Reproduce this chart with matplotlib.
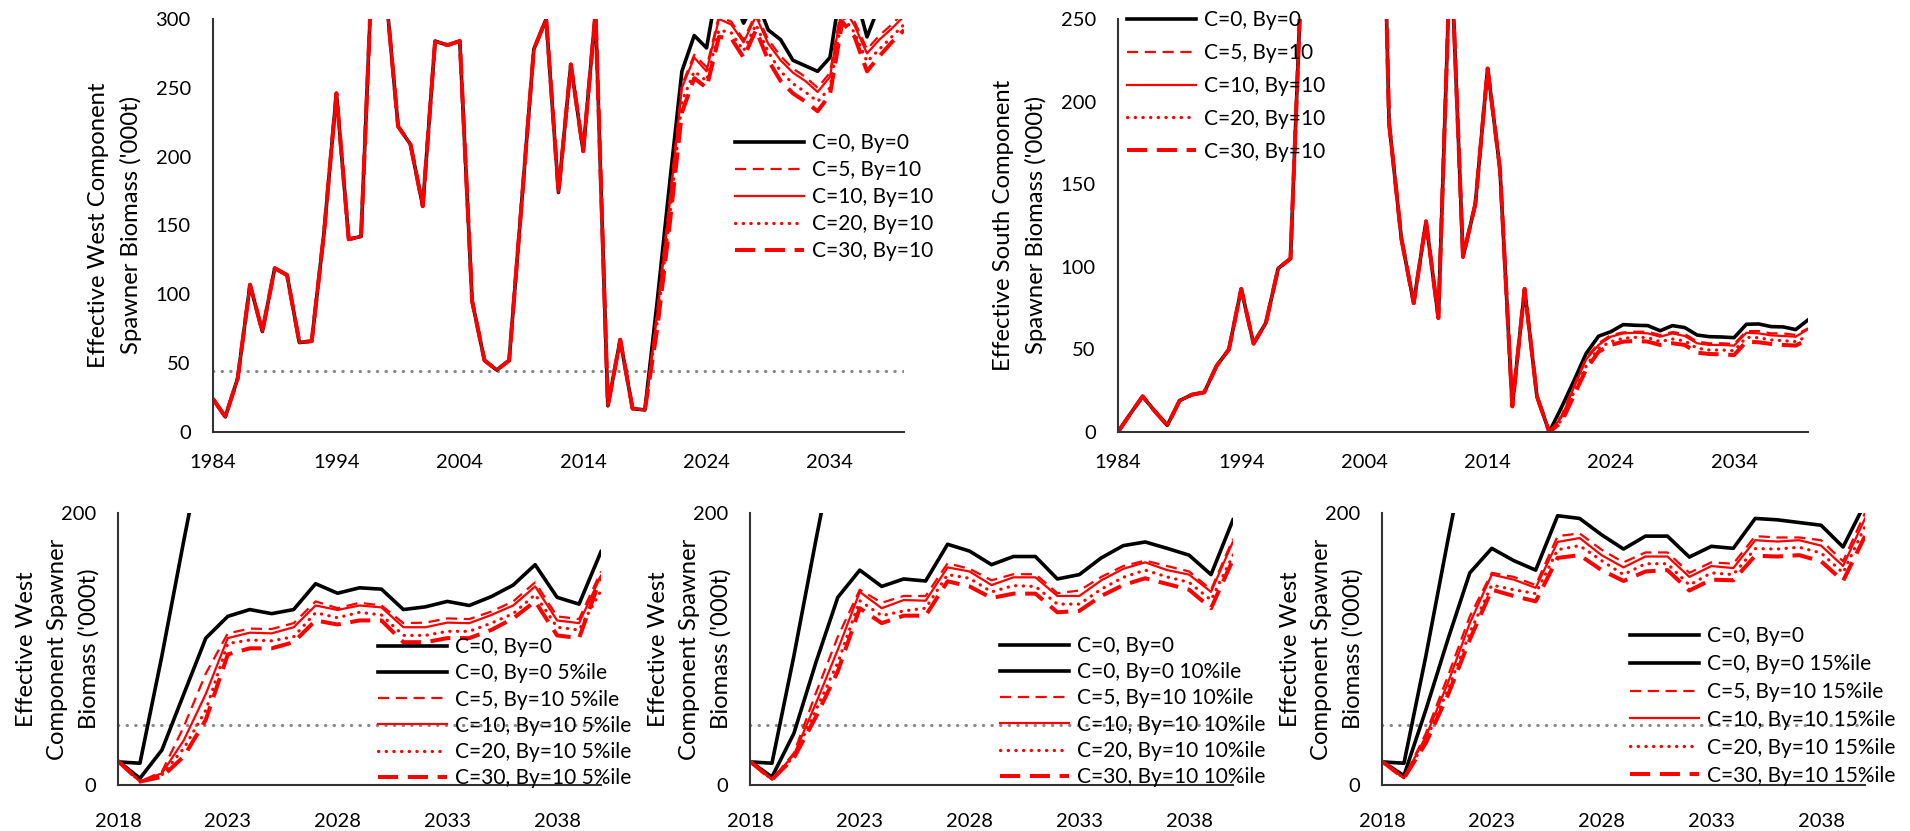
import numpy as np
import matplotlib.pyplot as plt

plt.rcParams['font.family'] = ['Lato', 'DejaVu Sans']

# ---------------- data ----------------
years_all = list(range(1984, 2041))
years_proj = list(range(2018, 2041))

# West component, historic part (1984-2019), identical for all scenarios
west_hist = [24, 11, 39, 107, 73, 119, 114, 65, 66, 145, 246, 140, 142, 360, 320,
             222, 209, 164, 284, 281, 284, 95, 52, 45, 52, 165, 278, 300, 174, 267,
             204, 305, 19, 67, 17, 16]
# West projections 2020-2040
west_c0_proj = [95, 180, 262, 288, 279, 330, 320, 297, 315, 292, 285, 270, 266, 262,
                272, 330, 320, 287, 310, 320, 330]
west_c5_proj = [88, 168, 252, 274, 265, 302, 298, 285, 304, 285, 273, 264, 258, 250,
                261, 312, 298, 278, 288, 296, 305]
west_c10_proj = [85, 165, 250, 272, 262, 300, 296, 283, 302, 282, 270, 261, 255, 247,
                 258, 310, 295, 275, 285, 293, 302]
west_c20_proj = [80, 155, 240, 262, 255, 292, 290, 277, 296, 276, 262, 253, 247, 240,
                 250, 302, 290, 269, 278, 287, 296]
west_c30_proj = [75, 150, 232, 257, 250, 287, 286, 272, 292, 270, 255, 246, 240, 233,
                 245, 298, 287, 262, 273, 283, 292]

# South component, historic part (1984-2019)
south_hist = [0, 11, 21.6, 12.5, 4, 19, 22.6, 24, 40, 50, 86.6, 53.5, 66, 99, 105,
              300, 420, 380, 450, 520, 480, 500, 187, 117, 78, 127.5, 69, 297, 106,
              138, 220, 159, 15.5, 86.6, 21.6, 0]
south_c0_proj = [15, 31, 47.6, 58, 60.7, 65, 64.6, 64.4, 61.3, 64.4, 63.2, 58.7, 57.7,
                 57.5, 57.1, 65.2, 65.4, 63.8, 63.6, 62, 67.8]
south_c5_proj = [10, 28, 45, 53.7, 58.7, 60.3, 60.7, 60.7, 58.7, 60.5, 59.3, 54.7, 53.7,
                 53.7, 53.3, 61.1, 61.1, 59.7, 59.7, 58.7, 62.8]
south_c10_proj = [9, 27, 44, 52.7, 57.7, 59.7, 60.1, 59.7, 57.7, 59.7, 58.1, 53.7, 52.7,
                  52.7, 52.3, 60.1, 59.7, 58.5, 58.1, 57.7, 62.2]
south_c20_proj = [7, 24, 40, 50.7, 54.7, 56.7, 57.3, 57.1, 54.7, 56.3, 55.1, 50.7, 49.6,
                  49.6, 49.2, 57.3, 57.1, 55.7, 55.3, 54.7, 58.1]
south_c30_proj = [6, 22, 38, 48.6, 52.7, 54.7, 55.1, 54.7, 52.7, 53.7, 52.7, 48, 47.2,
                  47, 46.6, 54.7, 54.3, 53.3, 52.7, 52.3, 56.1]

# West percentiles 2018-2040
p5_c0 = [17.6, 4.9, 25.7, 67, 108, 124, 129, 126, 129, 148, 141, 145, 144, 129, 131,
         135, 132, 138.5, 147, 162, 138, 133, 171.6]
p5_c5 = [17.6, 2.5, 9.8, 43, 82, 111.5, 115, 114.7, 119, 135, 130, 134, 132, 119, 119.4,
         122.5, 122, 127.5, 135, 149, 124, 122, 157]
p5_c10 = [17.6, 2.5, 8.6, 33, 67, 108, 112, 111.5, 116, 132, 128.7, 132, 130.6, 116, 116,
          119.4, 119, 125, 132, 146, 121, 119, 154]
p5_c20 = [17.6, 2.5, 7.4, 27, 55, 104, 106.6, 106, 109, 126.7, 123, 127, 125, 110, 110,
          113, 113, 119, 126, 140, 116, 114, 143]
p5_c30 = [17.6, 2.5, 6, 21, 48, 96, 100.5, 100.5, 105, 121, 118, 121, 121, 105, 105,
          108, 108, 114, 122.5, 135, 110, 108, 153]

p10_c0 = [17.4, 5.9, 38, 90, 138, 158, 146, 151.5, 150, 177, 172, 162, 168, 168, 151.5,
          154.7, 167, 176, 178.7, 174, 169, 154.7, 195]
p10_c5 = [17.4, 4, 23.5, 67.6, 109, 143.6, 134, 139, 139, 163, 159, 150.5, 155, 155, 141,
          143, 153, 161, 165, 161, 157, 143.6, 181]
p10_c10 = [17.4, 4, 22.3, 60, 99.5, 142, 130, 136, 135.5, 160, 157, 147, 152.7, 152.7,
           139, 139, 150.5, 159, 163.7, 158, 154.7, 142, 179]
p10_c20 = [17.4, 4, 21, 55, 90, 135.5, 124.5, 128, 130, 154.7, 152, 142, 146.6, 146, 133,
           133, 144, 152.7, 158, 153, 149, 136, 169]
p10_c30 = [17.4, 4, 20, 50, 83.6, 130, 119, 124.5, 124.5, 149.8, 146, 137.5, 140.7, 140.7,
           127, 128, 139, 147, 152, 147.8, 143.6, 130, 165.7]

p15_c0 = [17.4, 6.9, 55.4, 107, 156, 174, 165, 158, 198, 196, 184, 173.5, 183, 183, 167.6,
          175.5, 174, 196, 195, 193, 191, 175, 207]
p15_c5 = [17.4, 5, 38, 80, 124, 156, 153, 147, 183, 185, 173, 163.7, 171, 171, 156, 163.7,
          162.7, 183, 182, 182, 180, 164.5, 200]
p15_c10 = [17.4, 5, 35.8, 75, 119, 154.7, 151, 145, 178.7, 181.6, 169, 160, 168, 168, 153,
           161, 159.5, 180, 179, 180, 176, 161, 196]
p15_c20 = [17.4, 5, 33, 70, 112, 147, 143.6, 140.7, 173, 176, 165, 154.7, 162.7, 162.7,
           147, 156, 154.7, 173.8, 173.5, 174.8, 170.6, 156, 190]
p15_c30 = [17.4, 5, 31, 66, 107, 143.6, 139, 135, 167, 169, 158, 150, 157, 158, 143, 151,
           150.5, 168.6, 168, 169, 164.5, 150, 183]

threshold = 44

scen_labels = ['C=0, By=0', 'C=5, By=10', 'C=10, By=10', 'C=20, By=10', 'C=30, By=10']

# ---------------- styles ----------------
st_c0 = dict(color='black', lw=2.6)
st_c5 = dict(color='red', lw=1.6, dashes=(5, 3))
st_c10 = dict(color='red', lw=1.6)
st_c20 = dict(color='red', lw=2.3, dashes=(0.1, 2.3), dash_capstyle='round')
st_c30 = dict(color='red', lw=2.9, dashes=(5, 2.4))
red_styles = [st_c5, st_c10, st_c20, st_c30]

W, H = 1910, 831
fig = plt.figure(figsize=(W / 100, H / 100), dpi=100)


def make_ax(l, r, t, b):
    return fig.add_axes([l / W, 1 - b / H, (r - l) / W, (b - t) / H])


def style_ax(ax, xlim, ylim, xt, yt, xpad):
    ax.set_xlim(*xlim)
    ax.set_ylim(*ylim)
    ax.set_xticks(xt)
    ax.set_yticks(yt)
    for s in ['top', 'right']:
        ax.spines[s].set_visible(False)
    for s in ['left', 'bottom']:
        ax.spines[s].set_color('#333333')
        ax.spines[s].set_linewidth(1.5)
    ax.tick_params(axis='x', length=0, pad=xpad, labelsize=14.5)
    ax.tick_params(axis='y', length=0, pad=16, labelsize=14.5)


def gray_line(ax):
    ax.axhline(threshold, color='#8a8a8a', lw=2.3, dashes=(0.1, 2.6),
               dash_capstyle='round', zorder=1)


def legend(ax, x, y, spacing, fs=15):
    return ax.legend(loc='upper left', bbox_to_anchor=(x / W, 1 - y / H),
                     bbox_transform=fig.transFigure, frameon=False, fontsize=fs,
                     handlelength=3.3, handletextpad=0.4, labelspacing=spacing,
                     borderpad=0, borderaxespad=0)


def ylabel(x, y, txt):
    fig.text(x / W, 1 - y / H, txt, rotation=90, ha='center', va='center',
             fontsize=17.2, linespacing=1.58)


# ---------------- top-left: West ----------------
ax1 = make_ax(213, 904, 19, 432)
gray_line(ax1)
ax1.plot(years_all, west_hist + west_c0_proj, label=scen_labels[0],
         solid_joinstyle='round', **st_c0)
for lab, proj, st in zip(scen_labels[1:],
                         [west_c5_proj, west_c10_proj, west_c20_proj, west_c30_proj],
                         red_styles):
    ax1.plot(years_all, west_hist + proj, label=lab, solid_joinstyle='round', **st)
style_ax(ax1, (1984, 2040), (0, 300), range(1984, 2041, 10), range(0, 301, 50), 15.5)
legend(ax1, 735, 133, 0.34)
ylabel(115, 225, "Effective West Component\nSpawner Biomass ('000t)")

# ---------------- top-right: South ----------------
ax2 = make_ax(1118, 1808, 19, 432)
ax2.plot(years_all, south_hist + south_c0_proj, label=scen_labels[0],
         solid_joinstyle='round', **st_c0)
for lab, proj, st in zip(scen_labels[1:],
                         [south_c5_proj, south_c10_proj, south_c20_proj, south_c30_proj],
                         red_styles):
    ax2.plot(years_all, south_hist + proj, label=lab, solid_joinstyle='round', **st)
style_ax(ax2, (1984, 2040), (0, 250), range(1984, 2041, 10), range(0, 251, 50), 15.5)
legend(ax2, 1127, 10, 0.62)
ylabel(1020, 225, "Effective South Component\nSpawner Biomass ('000t)")

# ---------------- bottom row: West percentiles ----------------
median_proj = (west_hist + west_c0_proj)[34:]
bottom = [
    (118, 601, 58, 378, '5%ile', [p5_c0, p5_c5, p5_c10, p5_c20, p5_c30], 637, 0.30),
    (750, 1233, 690, 1000, '10%ile', [p10_c0, p10_c5, p10_c10, p10_c20, p10_c30], 636, 0.30),
    (1382, 1865, 1322, 1630, '15%ile', [p15_c0, p15_c5, p15_c10, p15_c20, p15_c30], 626, 0.38),
]
for l, r, ylx, legx, pct, series, legy, lsp in bottom:
    ax = make_ax(l, r, 513, 785)
    gray_line(ax)
    ax.plot(years_proj, median_proj, label='C=0, By=0', solid_joinstyle='round', **st_c0)
    ax.plot(years_proj, series[0], label='C=0, By=0 ' + pct,
            solid_joinstyle='round', **st_c0)
    for lab, vals, st in zip(scen_labels[1:], series[1:], red_styles):
        ax.plot(years_proj, vals, label=lab + ' ' + pct, solid_joinstyle='round', **st)
    style_ax(ax, (2018, 2040), (0, 200), range(2018, 2041, 5), [0, 200], 20)
    legend(ax, legx, legy, lsp)
    ylabel(ylx, 649, "Effective West\nComponent Spawner\nBiomass ('000t)")

fig.savefig('out.png', dpi=100)
